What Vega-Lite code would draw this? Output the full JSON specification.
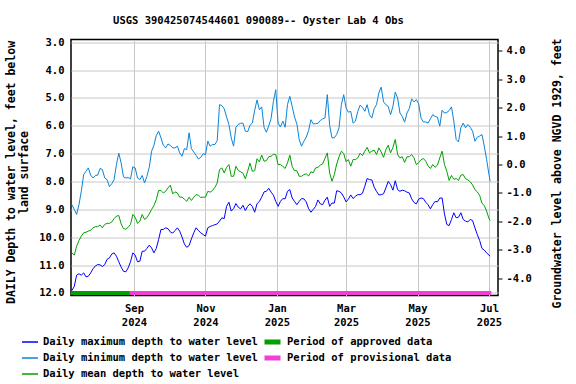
{
  "$schema": "https://vega.github.io/schema/vega-lite/v6.json",
  "width": 427,
  "height": 256,
  "autosize": {"type": "none"},
  "padding": {"left": 71, "top": 39.5, "right": 78, "bottom": 88.5},
  "background": "white",
  "config": {"view": {"stroke": "black", "strokeWidth": 1.5}, "font": "DejaVu Sans Mono"},
  "title": {"text": "USGS 390425074544601 090089-- Oyster Lab 4 Obs", "font": "DejaVu Sans Mono", "fontSize": 10.5, "fontWeight": "bold", "color": "black", "offset": 11, "dx": -26, "anchor": "middle"},
  "datasets": {
    "daily": [
      {"t":"2024-07-10","mx":11.91,"mn":8.83,"me":10.56},
      {"t":"2024-07-12","mx":11.76,"mn":9.00,"me":10.64},
      {"t":"2024-07-14","mx":11.36,"mn":9.18,"me":10.32},
      {"t":"2024-07-16","mx":11.31,"mn":8.83,"me":10.12},
      {"t":"2024-07-18","mx":11.36,"mn":8.35,"me":9.96},
      {"t":"2024-07-20","mx":11.28,"mn":7.75,"me":9.84},
      {"t":"2024-07-22","mx":11.42,"mn":7.63,"me":9.82},
      {"t":"2024-07-24","mx":11.40,"mn":7.51,"me":9.78},
      {"t":"2024-07-26","mx":11.28,"mn":7.77,"me":9.75},
      {"t":"2024-07-28","mx":11.13,"mn":7.87,"me":9.66},
      {"t":"2024-07-30","mx":11.03,"mn":7.78,"me":9.62},
      {"t":"2024-08-01","mx":10.98,"mn":7.77,"me":9.62},
      {"t":"2024-08-03","mx":10.99,"mn":7.53,"me":9.56},
      {"t":"2024-08-05","mx":11.05,"mn":7.57,"me":9.66},
      {"t":"2024-08-07","mx":10.98,"mn":7.87,"me":9.54},
      {"t":"2024-08-09","mx":10.79,"mn":7.93,"me":9.50},
      {"t":"2024-08-11","mx":10.74,"mn":8.18,"me":9.50},
      {"t":"2024-08-13","mx":10.60,"mn":8.08,"me":9.45},
      {"t":"2024-08-15","mx":10.56,"mn":7.93,"me":9.33},
      {"t":"2024-08-17","mx":10.68,"mn":7.39,"me":9.24},
      {"t":"2024-08-19","mx":10.88,"mn":6.98,"me":9.22},
      {"t":"2024-08-21","mx":11.07,"mn":7.33,"me":9.52},
      {"t":"2024-08-23","mx":11.22,"mn":7.83,"me":9.69},
      {"t":"2024-08-25","mx":11.24,"mn":7.87,"me":9.71},
      {"t":"2024-08-27","mx":11.10,"mn":7.86,"me":9.64},
      {"t":"2024-08-29","mx":10.88,"mn":7.90,"me":9.54},
      {"t":"2024-08-31","mx":10.56,"mn":7.47,"me":9.18},
      {"t":"2024-09-02","mx":10.64,"mn":7.51,"me":9.28},
      {"t":"2024-09-04","mx":10.88,"mn":7.87,"me":9.50},
      {"t":"2024-09-06","mx":10.86,"mn":7.93,"me":9.42},
      {"t":"2024-09-08","mx":10.50,"mn":7.78,"me":9.18},
      {"t":"2024-09-10","mx":10.50,"mn":8.05,"me":9.36},
      {"t":"2024-09-12","mx":10.40,"mn":7.81,"me":9.30},
      {"t":"2024-09-14","mx":10.28,"mn":7.49,"me":9.16},
      {"t":"2024-09-16","mx":10.38,"mn":6.91,"me":9.00},
      {"t":"2024-09-18","mx":10.56,"mn":6.70,"me":8.86},
      {"t":"2024-09-20","mx":10.40,"mn":6.35,"me":8.65},
      {"t":"2024-09-22","mx":10.08,"mn":6.19,"me":8.32},
      {"t":"2024-09-24","mx":9.72,"mn":6.43,"me":8.32},
      {"t":"2024-09-26","mx":9.72,"mn":6.70,"me":8.41},
      {"t":"2024-09-28","mx":9.66,"mn":6.79,"me":8.35},
      {"t":"2024-09-30","mx":9.69,"mn":6.65,"me":8.23},
      {"t":"2024-10-02","mx":9.81,"mn":6.70,"me":8.13},
      {"t":"2024-10-04","mx":9.85,"mn":6.79,"me":8.44},
      {"t":"2024-10-06","mx":9.76,"mn":6.79,"me":8.37},
      {"t":"2024-10-08","mx":9.66,"mn":6.73,"me":8.41},
      {"t":"2024-10-10","mx":9.78,"mn":6.97,"me":8.56},
      {"t":"2024-10-12","mx":9.99,"mn":7.09,"me":8.56},
      {"t":"2024-10-14","mx":10.24,"mn":6.82,"me":8.63},
      {"t":"2024-10-16","mx":10.36,"mn":6.85,"me":8.71},
      {"t":"2024-10-18","mx":10.30,"mn":6.25,"me":8.56},
      {"t":"2024-10-20","mx":10.06,"mn":6.82,"me":8.68},
      {"t":"2024-10-22","mx":9.84,"mn":6.94,"me":8.56},
      {"t":"2024-10-24","mx":9.66,"mn":7.06,"me":8.47},
      {"t":"2024-10-26","mx":9.76,"mn":7.19,"me":8.49},
      {"t":"2024-10-28","mx":9.84,"mn":7.13,"me":8.57},
      {"t":"2024-10-30","mx":9.90,"mn":7.00,"me":8.56},
      {"t":"2024-11-01","mx":9.96,"mn":7.03,"me":8.56},
      {"t":"2024-11-03","mx":9.66,"mn":6.55,"me":8.35},
      {"t":"2024-11-05","mx":9.61,"mn":6.73,"me":8.38},
      {"t":"2024-11-07","mx":9.58,"mn":6.67,"me":8.32},
      {"t":"2024-11-09","mx":9.55,"mn":6.67,"me":8.21},
      {"t":"2024-11-11","mx":9.52,"mn":6.53,"me":8.05},
      {"t":"2024-11-13","mx":9.42,"mn":5.24,"me":7.57},
      {"t":"2024-11-15","mx":9.30,"mn":5.27,"me":7.51},
      {"t":"2024-11-17","mx":9.33,"mn":5.39,"me":7.69},
      {"t":"2024-11-19","mx":8.89,"mn":5.68,"me":7.49},
      {"t":"2024-11-21","mx":8.74,"mn":5.95,"me":7.39},
      {"t":"2024-11-23","mx":9.06,"mn":6.43,"me":7.81},
      {"t":"2024-11-25","mx":8.97,"mn":6.73,"me":7.81},
      {"t":"2024-11-27","mx":8.79,"mn":6.05,"me":7.45},
      {"t":"2024-11-29","mx":8.92,"mn":5.95,"me":7.60},
      {"t":"2024-12-01","mx":8.98,"mn":5.91,"me":7.65},
      {"t":"2024-12-03","mx":8.85,"mn":5.90,"me":7.70},
      {"t":"2024-12-05","mx":9.04,"mn":6.19,"me":7.90},
      {"t":"2024-12-07","mx":8.89,"mn":6.21,"me":7.63},
      {"t":"2024-12-09","mx":8.80,"mn":5.98,"me":7.34},
      {"t":"2024-12-11","mx":8.89,"mn":5.90,"me":7.63},
      {"t":"2024-12-13","mx":9.10,"mn":5.44,"me":7.61},
      {"t":"2024-12-15","mx":8.80,"mn":5.07,"me":7.18},
      {"t":"2024-12-17","mx":8.71,"mn":5.42,"me":7.29},
      {"t":"2024-12-19","mx":8.56,"mn":5.32,"me":7.05},
      {"t":"2024-12-21","mx":8.37,"mn":6.05,"me":7.27},
      {"t":"2024-12-23","mx":8.35,"mn":6.23,"me":7.25},
      {"t":"2024-12-25","mx":8.24,"mn":6.00,"me":7.11},
      {"t":"2024-12-27","mx":8.38,"mn":5.74,"me":7.09},
      {"t":"2024-12-29","mx":8.49,"mn":5.12,"me":7.02},
      {"t":"2024-12-31","mx":8.71,"mn":4.70,"me":7.03},
      {"t":"2025-01-02","mx":8.89,"mn":5.90,"me":7.39},
      {"t":"2025-01-04","mx":8.71,"mn":6.04,"me":7.39},
      {"t":"2025-01-06","mx":8.61,"mn":5.83,"me":7.45},
      {"t":"2025-01-08","mx":8.62,"mn":6.05,"me":7.53},
      {"t":"2025-01-10","mx":8.35,"mn":5.24,"me":7.33},
      {"t":"2025-01-12","mx":8.29,"mn":4.94,"me":7.05},
      {"t":"2025-01-14","mx":8.59,"mn":5.30,"me":7.46},
      {"t":"2025-01-16","mx":8.71,"mn":5.68,"me":7.61},
      {"t":"2025-01-18","mx":8.83,"mn":5.93,"me":7.61},
      {"t":"2025-01-20","mx":8.71,"mn":6.49,"me":7.81},
      {"t":"2025-01-22","mx":8.61,"mn":6.73,"me":7.81},
      {"t":"2025-01-24","mx":8.62,"mn":6.55,"me":7.75},
      {"t":"2025-01-26","mx":8.73,"mn":6.41,"me":7.72},
      {"t":"2025-01-28","mx":8.97,"mn":6.17,"me":7.80},
      {"t":"2025-01-30","mx":9.10,"mn":5.78,"me":7.65},
      {"t":"2025-02-01","mx":9.00,"mn":5.93,"me":7.68},
      {"t":"2025-02-03","mx":8.89,"mn":5.92,"me":7.51},
      {"t":"2025-02-05","mx":8.66,"mn":5.91,"me":7.49},
      {"t":"2025-02-07","mx":8.80,"mn":5.81,"me":7.41},
      {"t":"2025-02-09","mx":8.83,"mn":5.75,"me":7.37},
      {"t":"2025-02-11","mx":8.67,"mn":5.72,"me":7.17},
      {"t":"2025-02-13","mx":8.56,"mn":4.88,"me":6.97},
      {"t":"2025-02-15","mx":8.89,"mn":5.98,"me":7.69},
      {"t":"2025-02-17","mx":8.77,"mn":6.43,"me":7.99},
      {"t":"2025-02-19","mx":8.77,"mn":6.43,"me":7.75},
      {"t":"2025-02-21","mx":8.33,"mn":6.31,"me":7.37},
      {"t":"2025-02-23","mx":8.35,"mn":6.07,"me":7.11},
      {"t":"2025-02-25","mx":8.41,"mn":5.24,"me":6.91},
      {"t":"2025-02-27","mx":8.55,"mn":4.88,"me":6.99},
      {"t":"2025-03-01","mx":8.73,"mn":5.36,"me":7.29},
      {"t":"2025-03-03","mx":8.63,"mn":5.51,"me":7.21},
      {"t":"2025-03-05","mx":8.48,"mn":5.48,"me":7.45},
      {"t":"2025-03-07","mx":8.61,"mn":5.90,"me":7.21},
      {"t":"2025-03-09","mx":8.53,"mn":5.83,"me":7.21},
      {"t":"2025-03-11","mx":8.47,"mn":5.48,"me":7.15},
      {"t":"2025-03-13","mx":8.47,"mn":5.26,"me":6.98},
      {"t":"2025-03-15","mx":8.42,"mn":5.33,"me":7.07},
      {"t":"2025-03-17","mx":8.17,"mn":5.48,"me":6.91},
      {"t":"2025-03-19","mx":7.89,"mn":5.24,"me":6.77},
      {"t":"2025-03-21","mx":7.93,"mn":5.60,"me":6.97},
      {"t":"2025-03-23","mx":7.94,"mn":5.72,"me":6.91},
      {"t":"2025-03-25","mx":8.20,"mn":5.38,"me":6.87},
      {"t":"2025-03-27","mx":8.35,"mn":5.24,"me":7.03},
      {"t":"2025-03-29","mx":8.48,"mn":4.82,"me":6.79},
      {"t":"2025-03-31","mx":8.47,"mn":4.61,"me":6.94},
      {"t":"2025-04-02","mx":8.44,"mn":5.14,"me":7.13},
      {"t":"2025-04-04","mx":8.23,"mn":5.24,"me":6.85},
      {"t":"2025-04-06","mx":7.99,"mn":5.30,"me":6.70},
      {"t":"2025-04-08","mx":8.11,"mn":5.60,"me":6.97},
      {"t":"2025-04-10","mx":8.31,"mn":5.30,"me":6.77},
      {"t":"2025-04-12","mx":7.97,"mn":4.79,"me":6.49},
      {"t":"2025-04-14","mx":8.29,"mn":5.00,"me":7.03},
      {"t":"2025-04-16","mx":8.35,"mn":5.54,"me":7.15},
      {"t":"2025-04-18","mx":8.31,"mn":5.66,"me":7.11},
      {"t":"2025-04-20","mx":8.33,"mn":5.87,"me":7.31},
      {"t":"2025-04-22","mx":8.38,"mn":5.54,"me":7.11},
      {"t":"2025-04-24","mx":8.41,"mn":5.38,"me":7.11},
      {"t":"2025-04-26","mx":8.62,"mn":5.03,"me":7.03},
      {"t":"2025-04-28","mx":8.75,"mn":5.14,"me":7.15},
      {"t":"2025-04-30","mx":8.80,"mn":5.06,"me":7.39},
      {"t":"2025-05-02","mx":8.63,"mn":5.21,"me":7.32},
      {"t":"2025-05-04","mx":8.59,"mn":5.72,"me":7.22},
      {"t":"2025-05-06","mx":8.61,"mn":5.86,"me":7.17},
      {"t":"2025-05-08","mx":8.74,"mn":5.86,"me":7.27},
      {"t":"2025-05-10","mx":8.83,"mn":5.90,"me":7.44},
      {"t":"2025-05-12","mx":8.98,"mn":5.75,"me":7.53},
      {"t":"2025-05-14","mx":8.83,"mn":5.60,"me":7.39},
      {"t":"2025-05-16","mx":8.71,"mn":5.66,"me":7.49},
      {"t":"2025-05-18","mx":8.73,"mn":5.69,"me":7.41},
      {"t":"2025-05-20","mx":8.59,"mn":6.01,"me":7.15},
      {"t":"2025-05-22","mx":8.59,"mn":5.44,"me":6.91},
      {"t":"2025-05-24","mx":9.16,"mn":5.54,"me":7.39},
      {"t":"2025-05-26","mx":9.54,"mn":5.52,"me":7.63},
      {"t":"2025-05-28","mx":9.58,"mn":5.45,"me":7.96},
      {"t":"2025-05-30","mx":9.36,"mn":5.32,"me":7.78},
      {"t":"2025-06-01","mx":9.12,"mn":5.83,"me":7.92},
      {"t":"2025-06-03","mx":9.30,"mn":6.49,"me":7.89},
      {"t":"2025-06-05","mx":9.28,"mn":6.58,"me":7.96},
      {"t":"2025-06-07","mx":9.12,"mn":6.07,"me":7.77},
      {"t":"2025-06-09","mx":9.36,"mn":5.90,"me":7.75},
      {"t":"2025-06-11","mx":9.42,"mn":6.07,"me":7.90},
      {"t":"2025-06-13","mx":9.45,"mn":5.95,"me":7.94},
      {"t":"2025-06-15","mx":9.36,"mn":6.05,"me":8.01},
      {"t":"2025-06-17","mx":9.40,"mn":6.19,"me":8.12},
      {"t":"2025-06-19","mx":9.66,"mn":6.55,"me":8.29},
      {"t":"2025-06-21","mx":9.90,"mn":6.41,"me":8.37},
      {"t":"2025-06-23","mx":10.11,"mn":6.37,"me":8.49},
      {"t":"2025-06-25","mx":10.40,"mn":6.31,"me":8.78},
      {"t":"2025-06-27","mx":10.46,"mn":6.73,"me":8.86},
      {"t":"2025-06-29","mx":10.56,"mn":7.21,"me":9.06},
      {"t":"2025-07-01","mx":10.64,"mn":7.75,"me":9.33},
      {"t":"2025-07-02","mx":10.68,"mn":7.99,"me":9.40}
    ],
    "periods": [
      {"s":"2024-07-09T05:00:00","e":"2024-08-28T12:00:00","p":"Period of approved data"},
      {"s":"2024-08-28T12:00:00","e":"2025-07-03T00:00:00","p":"Period of provisional data"}
    ]
  },
  "layer": [
    {
      "layer": [
        {
          "data": {"name": "daily"},
          "transform": [{"fold": ["mx", "mn", "me"], "as": ["key", "depth"]}],
          "mark": {"type": "line", "strokeWidth": 1},
          "encoding": {
            "x": {
              "field": "t", "type": "temporal",
              "scale": {"domain": [{"year": 2024, "month": 7, "date": 9, "hours": 5}, {"year": 2025, "month": 7, "date": 8, "hours": 17}]},
              "axis": {
                "values": [{"year": 2024, "month": 9, "date": 1}, {"year": 2024, "month": 11, "date": 1}, {"year": 2025, "month": 1, "date": 1}, {"year": 2025, "month": 3, "date": 1}, {"year": 2025, "month": 5, "date": 1}, {"year": 2025, "month": 7, "date": 1}],
                "labelExpr": "[timeFormat(datum.value, '%b'), timeFormat(datum.value, '%Y')]",
                "title": null, "grid": true, "gridColor": "#c8c8c8", "gridWidth": 1,
                "ticks": false, "tickSize": 0, "domain": false, "tickCount": 20,
                "labelFont": "DejaVu Sans Mono", "labelFontSize": 10.5, "labelFontWeight": "bold", "labelColor": "black",
                "labelPadding": 8, "labelLineHeight": 14, "labelOverlap": false, "labelFlush": false
              }
            },
            "y": {
              "field": "depth", "type": "quantitative",
              "scale": {"domain": [2.9, 12.09], "reverse": true, "zero": false, "nice": false},
              "axis": {
                "title": ["DAILY Depth to water level, feet below", "\u00a0\u00a0\u00a0\u00a0\u00a0\u00a0land surface"],
                "titleFont": "DejaVu Sans Mono", "titleFontSize": 11.5, "titleFontWeight": "bold", "titleColor": "black",
                "titleAngle": 270, "titleX": -60, "titleY": 132.5, "titleAlign": "center", "titleBaseline": "middle", "titleLineHeight": 13,
                "values": [3, 4, 5, 6, 7, 8, 9, 10, 11, 12], "tickCount": 20, "format": ".1f", "labelOverlap": false,
                "labelFont": "DejaVu Sans Mono", "labelFontSize": 10.5, "labelFontWeight": "bold", "labelColor": "black",
                "ticks": false, "tickSize": 0, "labelPadding": 7, "domain": false,
                "grid": true, "gridColor": "#c8c8c8", "gridWidth": 1
              }
            },
            "stroke": {
              "field": "key", "type": "nominal",
              "scale": {"domain": ["mx", "mn", "me"], "range": ["#0000ff", "#0a84d8", "#00a000"]},
              "legend": {
                "orient": "none", "legendX": -50, "legendY": 294.5, "title": null, "direction": "vertical",
                "symbolType": "stroke", "symbolSize": 256, "symbolStrokeWidth": 1.5, "clipHeight": 16,
                "labelExpr": "datum.value == 'mx' ? 'Daily maximum depth to water level' : datum.value == 'mn' ? 'Daily minimum depth to water level' : 'Daily mean depth to water level'",
                "labelFont": "DejaVu Sans Mono", "labelFontSize": 10.5, "labelFontWeight": "bold", "labelColor": "black",
                "labelOffset": 4, "rowPadding": 0, "padding": 0, "labelLimit": 400
              }
            }
          }
        },
        {
          "data": {"name": "periods"},
          "mark": {"type": "rule", "strokeWidth": 4, "strokeCap": "butt"},
          "encoding": {
            "x": {"field": "s", "type": "temporal"},
            "x2": {"field": "e"},
            "y": {"datum": 12, "type": "quantitative"},
            "color": {
              "field": "p", "type": "nominal",
              "scale": {"domain": ["Period of approved data", "Period of provisional data"], "range": ["#00a000", "#f040d8"]},
              "legend": {
                "orient": "none", "legendX": 191, "legendY": 294.5, "title": null, "direction": "vertical",
                "symbolType": "stroke", "symbolSize": 256, "symbolStrokeWidth": 5, "clipHeight": 16,
                "labelFont": "DejaVu Sans Mono", "labelFontSize": 10.5, "labelFontWeight": "bold", "labelColor": "black",
                "labelOffset": 4, "rowPadding": 0, "padding": 0, "labelLimit": 400
              }
            }
          }
        }
      ]
    },
    {
      "data": {"values": [{}]},
      "mark": {"type": "rule", "opacity": 0},
      "encoding": {
        "y": {
          "datum": 0, "type": "quantitative",
          "scale": {"domain": [-4.6, 4.39], "zero": false, "nice": false},
          "axis": {
            "orient": "right", "title": "Groundwater level above NGVD 1929, feet",
            "titleFont": "DejaVu Sans Mono", "titleFontSize": 11.5, "titleFontWeight": "bold", "titleColor": "black",
            "titleAngle": 270, "titleX": 59, "titleY": 133.5, "titleAlign": "center", "titleBaseline": "middle",
            "values": [-4, -3, -2, -1, 0, 1, 2, 3, 4], "tickCount": 20, "labelOverlap": false,
            "labelExpr": "replace(format(datum.value, '.1f'), '\u2212', '-')",
            "labelFont": "DejaVu Sans Mono", "labelFontSize": 10.5, "labelFontWeight": "bold", "labelColor": "black",
            "grid": false, "domain": false, "ticks": true, "tickSize": 4, "tickColor": "black", "tickWidth": 1, "labelPadding": 4
          }
        }
      }
    }
  ],
  "resolve": {"scale": {"y": "independent"}, "axis": {"y": "independent"}}
}
